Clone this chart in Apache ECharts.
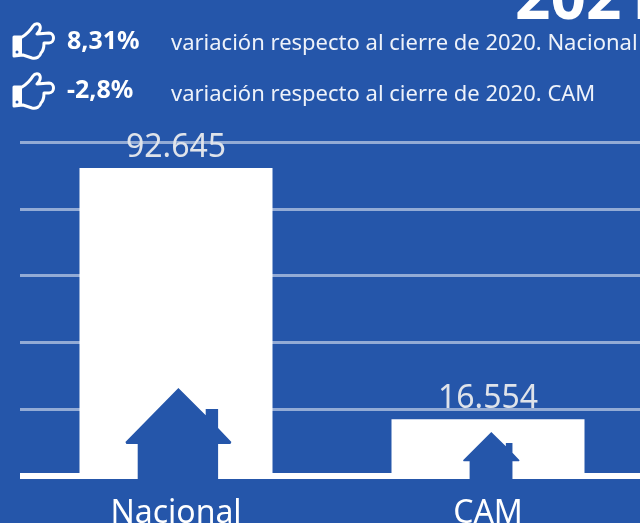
<!DOCTYPE html>
<html lang="es">
<head>
    <meta charset="UTF-8">
    <title>Variación 2021</title>
    <script src="https://cdn.jsdelivr.net/npm/echarts@6/dist/echarts.min.js"></script>
    <style>
        html, body { margin: 0; padding: 0; background: #2556aa; overflow: hidden; }
        #chart { width: 640px; height: 523px; }
    </style>
</head>
<body>
    <div id="chart"></div>
    <script>
        var categories = ['Nacional', 'CAM'];
        var values = [92645, 16554];
        var percents = ['8,31%', '-2,8%'];
        var notes = ['variación respecto al cierre de 2020. Nacional', 'variación respecto al cierre de 2020. CAM'];

        var blue = '#2556aa';
        var font = '"Noto Sans", sans-serif';

        // casa con chimenea, se estira al tamaño de cada barra
        var house = 'path://M53 0L80.3 27.3L80.3 21L92.7 21L92.7 40L106 54L105 56L92.7 56L92.7 92L12.3 92L12.3 56L1 56L0 54Z';
        var thumbSvg = '<svg xmlns="http://www.w3.org/2000/svg" width="44" height="38" viewBox="0 0 44 38">' +
            '<path d="M2 15L10 15C15 12 18 9 21 4C23 1 27 1 28 4C29 7 27 10 25 12L37 11C43 11 43 21 37 21L32 21C32 26 31 29 29 31C28 35 24 37 20 36L11 33L2 34Z" ' +
            'fill="none" stroke="#fff" stroke-width="3" stroke-linejoin="round"/>' +
            '<path d="M10 15L10 33L2 34L2 15Z" fill="#fff"/><circle cx="5" cy="30" r="1.5" fill="#2556aa"/></svg>';
        var thumb = 'data:image/svg+xml;charset=utf-8,' + encodeURIComponent(thumbSvg);

        function fmt(v) {
            return String(v).replace(/\B(?=(\d{3})+$)/g, '.');
        }

        var graphics = [{
            type: 'text', x: 515, y: 32,
            style: { text: '2021', fill: '#fff', font: 'bold 62px ' + font, textVerticalAlign: 'bottom' }
        }];
        percents.forEach(function (p, i) {
            var y = 22 + i * 50;
            graphics.push({
                type: 'image', x: 12, y: y,
                style: { image: thumb, width: 44, height: 38 }
            });
            graphics.push({
                type: 'text', x: 67, y: y + 6 + (i ? 0 : 1),
                style: { text: p, fill: '#fff', font: 'bold 25px ' + font }
            });
            graphics.push({
                type: 'text', x: 171, y: y + 10 + (i ? 1 : 0) + 1,
                style: { text: notes[i], fill: '#eef2fa', font: '22px ' + font }
            });
        });

        var chart = echarts.init(document.getElementById('chart'));
        chart.setOption({
            animation: false,
            backgroundColor: blue,
            graphic: graphics,
            grid: { left: 20, top: 142.5, width: 624, height: 333, outerBoundsMode: 'none' },
            xAxis: {
                type: 'category',
                data: categories,
                offset: 2,
                axisTick: { show: false },
                axisLine: { show: true, lineStyle: { color: '#fff', width: 6, cap: 'butt' } },
                axisLabel: { color: '#fff', fontSize: 32, fontFamily: font, margin: 20, interval: 0 }
            },
            yAxis: [{
                // solo dibuja las líneas guía
                type: 'value', min: 0, max: 5, interval: 1,
                axisLine: { show: false }, axisTick: { show: false }, axisLabel: { show: false },
                splitLine: { lineStyle: { color: '#93abd5', width: 3 } }
            }, {
                // escala de las barras
                type: 'value', min: -454, max: 100363, show: false, splitLine: { show: false }
            }],
            series: [{
                type: 'bar',
                yAxisIndex: 1,
                data: values,
                barWidth: 193,
                itemStyle: { color: '#fff' },
                label: {
                    show: true, position: 'top', distance: 4,
                    color: '#dfe3ea', fontSize: 32, fontFamily: font,
                    formatter: function (p) { return fmt(p.value); }
                },
                z: 3
            }, {
                type: 'pictorialBar',
                yAxisIndex: 1,
                symbol: house,
                symbolPosition: 'start',
                data: [
                    { value: values[0], symbolSize: [106, 92], symbolOffset: [2.4, 6] },
                    { value: values[1], symbolSize: [56.5, 48], symbolOffset: [3.3, 6] }
                ],
                itemStyle: { color: blue },
                z: 6
            }]
        });
    </script>
</body>
</html>
